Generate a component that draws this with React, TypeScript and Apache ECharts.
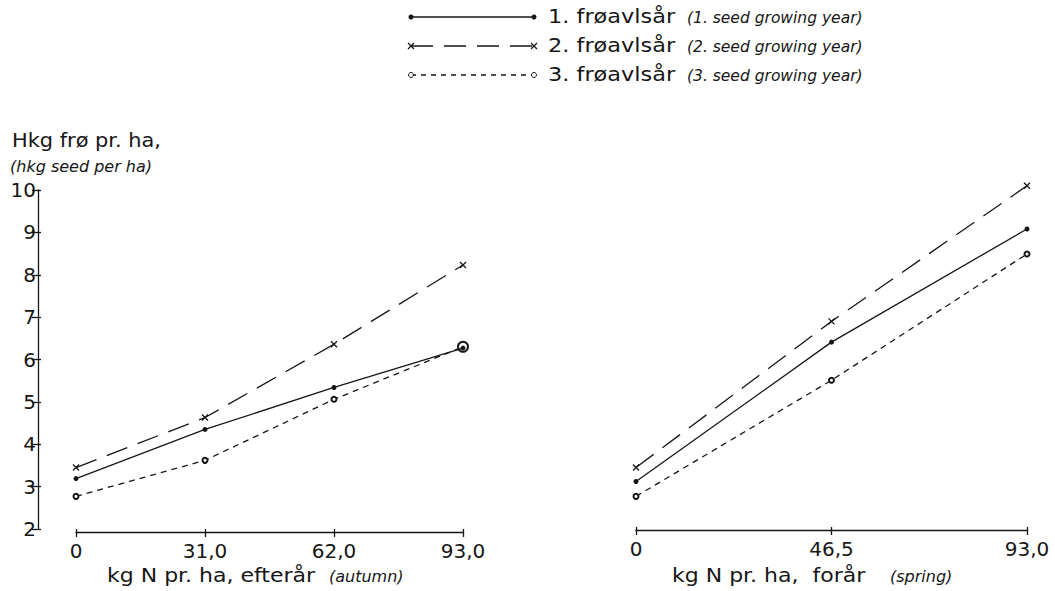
import React, { useEffect, useRef } from "react";
import * as echarts from "echarts";

// ---- data ----
const autumnN = [0, 31, 62, 93];
const springN = [0, 46.5, 93];

const autumnYear1 = [3.19, 4.35, 5.34, 6.27];
const autumnYear2 = [3.45, 4.63, 6.36, 8.23];
const autumnYear3 = [2.77, 3.62, 5.06, 6.3];

const springYear1 = [3.12, 6.41, 9.08];
const springYear2 = [3.45, 6.9, 10.1];
const springYear3 = [2.77, 5.51, 8.49];

const yearNames = ["1. frøavlsår", "2. frøavlsår", "3. frøavlsår"];
const yearNamesEn = [
  "(1. seed growing year)",
  "(2. seed growing year)",
  "(3. seed growing year)",
];
const yTitle = "Hkg frø pr. ha,";
const yTitleEn = "(hkg seed per ha)";
const autumnTitle = "kg N pr. ha, efterår";
const autumnTitleEn = "(autumn)";
const springTitle = "kg N pr. ha,  forår";
const springTitleEn = "(spring)";

const INK = "#161616";
const FONT = "'DejaVu Sans', sans-serif";

const fmt = (v: number) => (v === 0 ? "0" : v.toFixed(1).replace(".", ","));

const crossPath = "path://M0,0L10,10M10,0L0,10";

function txt(
  text: string,
  x: number,
  y: number,
  size: number,
  italic: boolean,
  scaleX = 1
) {
  return {
    type: "text",
    x,
    y,
    scaleX,
    silent: true,
    style: {
      text,
      fill: INK,
      fontSize: size,
      fontFamily: FONT,
      fontStyle: italic ? "italic" : "normal",
      align: "left",
      textAlign: "left",
      verticalAlign: "middle",
      textVerticalAlign: "middle",
    },
  };
}

function legendRow(i: number, y: number) {
  const x1 = 411;
  const x2 = 534;
  const dash = i === 0 ? undefined : i === 1 ? [22, 11] : [5, 5];
  const els: any[] = [
    {
      type: "line",
      shape: { x1, y1: y, x2, y2: y },
      style: { stroke: INK, lineWidth: 1.3, lineDash: dash },
    },
  ];
  [x1, x2].forEach((cx) => {
    if (i === 0) {
      els.push({ type: "circle", shape: { cx, cy: y, r: 2.5 }, style: { fill: INK } });
    } else if (i === 1) {
      els.push({
        type: "line",
        shape: { x1: cx - 3, y1: y - 3, x2: cx + 3, y2: y + 3 },
        style: { stroke: INK, lineWidth: 1.2 },
      });
      els.push({
        type: "line",
        shape: { x1: cx - 3, y1: y + 3, x2: cx + 3, y2: y - 3 },
        style: { stroke: INK, lineWidth: 1.2 },
      });
    } else {
      els.push({
        type: "circle",
        shape: { cx, cy: y, r: 2.5 },
        style: { fill: "#fff", stroke: INK, lineWidth: 1 },
      });
    }
  });
  els.push(txt(yearNames[i], 548, y, 19, false, 1.18));
  els.push(txt(yearNamesEn[i], 687, y + 1, 15.5, true, 1));
  return els;
}

function seriesFor(
  gi: number,
  xs: number[],
  ys: number[],
  year: number,
  others: number[][]
) {
  const lineType: any = year === 0 ? "solid" : year === 1 ? [22, 11] : [6, 5];
  const base: any = {
    type: "line",
    name: yearNames[year],
    xAxisIndex: gi,
    yAxisIndex: gi,
    data: xs.map((x, i) => [x, ys[i]]),
    clip: false,
    lineStyle: { color: INK, width: 1.3, type: lineType },
    z: year === 0 ? 4 : 2,
  };
  if (year === 0) {
    base.symbol = "circle";
    base.symbolSize = 5;
    base.itemStyle = { color: INK };
  } else if (year === 1) {
    base.symbol = crossPath;
    base.symbolSize = 6;
    base.itemStyle = { color: INK, borderColor: INK, borderWidth: 1.3 };
  } else {
    base.symbol = "emptyCircle";
    base.symbolSize = (v: number[], p: any) =>
      Math.abs(v[1] - others[0][p.dataIndex]) < 0.1 ? 10 : 5;
    base.itemStyle = { color: INK, borderColor: INK, borderWidth: 1.1 };
  }
  return base;
}

function buildOption(): any {
  const axisLineStyle = { color: INK, width: 1.3 };
  const xBase = (gi: number, interval: number, offset: number) => ({
    gridIndex: gi,
    type: "value",
    min: 0,
    max: 93,
    interval,
    position: "bottom",
    offset,
    axisLine: { show: true, onZero: false, lineStyle: axisLineStyle },
    axisTick: { show: true, length: 5, lineStyle: axisLineStyle },
    axisLabel: { formatter: fmt, margin: 9, fontSize: 20, color: INK, fontFamily: FONT },
    splitLine: { show: false },
  });
  const xInner = (gi: number, interval: number, offset: number) => ({
    gridIndex: gi,
    type: "value",
    min: 0,
    max: 93,
    interval,
    position: "bottom",
    offset,
    axisLine: { show: false, onZero: false },
    axisTick: { show: true, inside: true, length: 3, lineStyle: axisLineStyle },
    axisLabel: { show: false },
    splitLine: { show: false },
  });

  const graphic: any[] = [
    ...legendRow(0, 17),
    ...legendRow(1, 46),
    ...legendRow(2, 75),
    txt(yTitle, 12, 140, 19, false, 1.1),
    txt(yTitleEn, 10, 166, 16, true, 1),
    txt(autumnTitle, 107, 575, 20, false, 1.1),
    txt(autumnTitleEn, 329, 576, 16, true, 1),
    txt(springTitle, 672, 575, 20, false, 1.1),
    txt(springTitleEn, 890, 576, 16, true, 1),
  ];

  return {
    animation: false,
    backgroundColor: "#ffffff",
    textStyle: { fontFamily: FONT },
    grid: [
      { left: 76, top: 190, width: 387, height: 339 },
      { left: 636, top: 190, width: 391, height: 339 },
    ],
    xAxis: [
      xBase(0, 31, 3),
      xBase(1, 46.5, 1),
      xInner(0, 31, 3),
      xInner(1, 46.5, 1),
    ],
    yAxis: [
      {
        gridIndex: 0,
        type: "value",
        min: 2,
        max: 10,
        interval: 1,
        position: "left",
        offset: 38,
        axisLine: { show: true, onZero: false, lineStyle: axisLineStyle },
        axisTick: { show: true, length: 6, lineStyle: axisLineStyle },
        axisLabel: { margin: 2, fontSize: 20, color: INK, fontFamily: FONT },
        splitLine: { show: false },
      },
      {
        gridIndex: 1,
        type: "value",
        min: 2,
        max: 10,
        interval: 1,
        show: false,
        splitLine: { show: false },
      },
      {
        gridIndex: 0,
        type: "value",
        min: 2,
        max: 10,
        interval: 1,
        position: "left",
        offset: 38,
        axisLine: { show: false, onZero: false },
        axisTick: { show: true, inside: true, length: 3, lineStyle: axisLineStyle },
        axisLabel: { show: false },
        splitLine: { show: false },
      },
    ],
    series: [
      seriesFor(0, autumnN, autumnYear1, 0, []),
      seriesFor(0, autumnN, autumnYear2, 1, []),
      seriesFor(0, autumnN, autumnYear3, 2, [autumnYear1]),
      seriesFor(1, springN, springYear1, 0, []),
      seriesFor(1, springN, springYear2, 1, []),
      seriesFor(1, springN, springYear3, 2, [springYear1]),
    ],
    graphic,
  };
}

export default function App() {
  const ref = useRef<HTMLDivElement>(null);
  useEffect(() => {
    if (!ref.current) return;
    const chart = echarts.init(ref.current, undefined, { renderer: "svg" });
    chart.setOption(buildOption());
    return () => chart.dispose();
  }, []);
  return (
    <div
      ref={ref}
      style={{ position: "absolute", left: 0, top: 0, width: 1055, height: 591, background: "#fff" }}
    />
  );
}
